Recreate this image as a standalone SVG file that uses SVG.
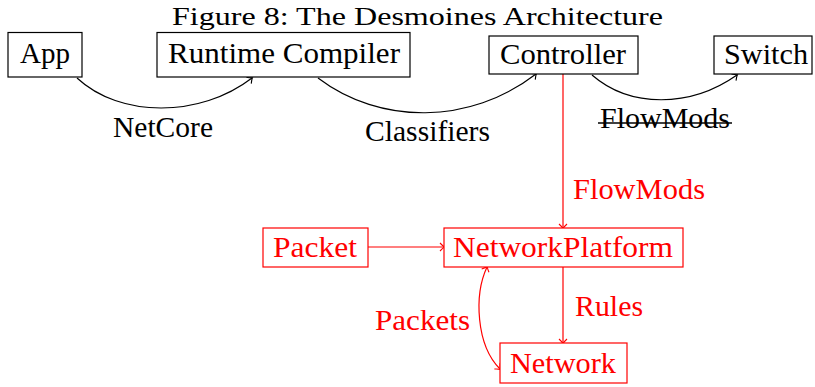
<svg xmlns="http://www.w3.org/2000/svg" width="815" height="387" viewBox="0 0 815 387" font-family="'Liberation Serif', 'DejaVu Serif', serif">
<defs>
<marker id="ak" viewBox="-5 -5 7 10" markerWidth="7" markerHeight="10" refX="0" refY="0" orient="auto-start-reverse" markerUnits="userSpaceOnUse">
<path d="M-4,-4 Q-1,-0.8 0.5,0 Q-1,0.8 -4,4" fill="none" stroke="#000" stroke-width="1.1"/>
</marker>
<marker id="ar" viewBox="-5 -5 7 10" markerWidth="7" markerHeight="10" refX="0" refY="0" orient="auto-start-reverse" markerUnits="userSpaceOnUse">
<path d="M-4,-4 Q-1,-0.8 0.5,0 Q-1,0.8 -4,4" fill="none" stroke="#f00" stroke-width="1.1"/>
</marker>
</defs>
<style>
text{font-family:'Liberation Serif','DejaVu Serif',serif;font-size:29px}
.k{fill:#000}
.r{fill:#f00}
.bk{fill:#fff;stroke:#000;stroke-width:1.2}
.br{fill:#fff;stroke:#f00;stroke-width:1.2}
.ek{fill:none;stroke:#000;stroke-width:1.2;marker-end:url(#ak)}
.er{fill:none;stroke:#f00;stroke-width:1.2;marker-end:url(#ar)}
</style>
<rect width="815" height="387" fill="#fff"/>
<text x="172" y="25" class="k" style="font-size:26px" textLength="491" lengthAdjust="spacingAndGlyphs">Figure 8: The Desmoines Architecture</text>
<g id="connectors">
<path class="ek" d="M77,78 C120,118 200,118 252,78"/>
<path class="ek" d="M318,78 C380,125 470,125 536,74"/>
<path class="ek" d="M592,75 C630,108 690,108 737,75"/>
<path class="er" d="M563,74 L563,228"/>
<path class="er" d="M563,267 L563,343"/>
<path class="er" d="M368,247 L444,247"/>
<path class="er" style="marker-start:url(#ar)" d="M487,267 C474,295 476,345 500,369"/>
<text x="113" y="137" class="k" textLength="100" lengthAdjust="spacingAndGlyphs">NetCore</text>
<text x="365" y="141" class="k" textLength="125" lengthAdjust="spacingAndGlyphs">Classifiers</text>
<text x="600" y="128" class="k" textLength="130" lengthAdjust="spacingAndGlyphs">FlowMods</text>
<line x1="598" y1="123" x2="732" y2="123" stroke="#000" stroke-width="1.4"/>
<text x="573" y="199" class="r" textLength="132" lengthAdjust="spacingAndGlyphs">FlowMods</text>
<text x="575" y="316" class="r" textLength="68" lengthAdjust="spacingAndGlyphs">Rules</text>
<text x="375" y="330" class="r" textLength="95" lengthAdjust="spacingAndGlyphs">Packets</text>
</g>
<g id="app">
<rect class="bk" x="8" y="32.5" width="74" height="44.5"/>
<text x="20" y="63" class="k" textLength="50" lengthAdjust="spacingAndGlyphs">App</text>
</g>
<g id="runtime-compiler">
<rect class="bk" x="157" y="32.5" width="253" height="44.5"/>
<text x="168" y="63" class="k" textLength="232" lengthAdjust="spacingAndGlyphs">Runtime Compiler</text>
</g>
<g id="controller">
<rect class="bk" x="489" y="36" width="149" height="38"/>
<text x="500" y="64" class="k" textLength="126" lengthAdjust="spacingAndGlyphs">Controller</text>
</g>
<g id="switch">
<rect class="bk" x="714" y="36" width="98" height="38"/>
<text x="724" y="64" class="k" textLength="84" lengthAdjust="spacingAndGlyphs">Switch</text>
</g>
<g id="packet">
<rect class="br" x="263" y="228" width="105" height="39"/>
<text x="273" y="257" class="r" textLength="84" lengthAdjust="spacingAndGlyphs">Packet</text>
</g>
<g id="network-platform">
<rect class="br" x="444" y="228" width="239" height="39"/>
<text x="453" y="257" class="r" textLength="220" lengthAdjust="spacingAndGlyphs">NetworkPlatform</text>
</g>
<g id="network">
<rect class="br" x="500" y="343" width="127" height="40"/>
<text x="510" y="373" class="r" textLength="106" lengthAdjust="spacingAndGlyphs">Network</text>
</g>
</svg>
